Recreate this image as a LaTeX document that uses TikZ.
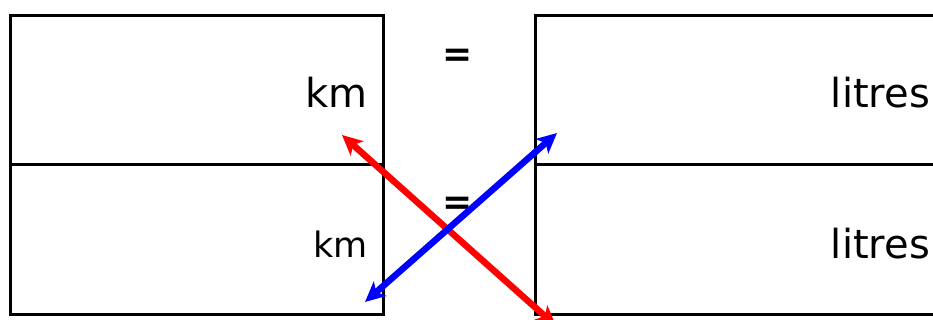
\documentclass[tikz,border=0pt]{standalone}
\usepackage{fontspec}
\setmainfont{DejaVu Sans}
\usetikzlibrary{arrows.meta}
\begin{document}
\begin{tikzpicture}[x=1pt,y=-1pt,
  cell/.style={draw,line width=3pt,rectangle,minimum width=#1,minimum height=149pt,inner sep=0pt,outer sep=0pt,anchor=north west},
  big/.style={anchor=base east,inner sep=0pt,font=\fontsize{40}{48}\selectfont},
  small/.style={anchor=base east,inner sep=0pt,font=\fontsize{35}{42}\selectfont},
  eq/.style={inner sep=0pt,font=\fontsize{36}{42}\selectfont\bfseries},
  dbl/.style={line width=6.5pt,{Stealth[length=20pt,width=19pt,inset=5pt]}-{Stealth[length=20pt,width=19pt,inset=5pt]}}]
\useasboundingbox (0,0) rectangle (933,320);
\clip (0,0) rectangle (933,320);
\node[cell=373pt] (lt) at (10,16) {};
\node[cell=373pt] (lb) at (10,165) {};
\node[cell=430pt] (rt) at (535,16) {};
\node[cell=430pt] (rb) at (535,165) {};
\node[big] (k1) at (368,108) {km};
\node[small] (k2) at (368,257) {km};
\node[big] (l1) at (930,108) {litres};
\node[big] (l2) at (930,258) {litres};
\node[eq] (e1) at (458,58) {=};
\node[eq] (e2) at (458,206) {=};
\coordinate (r1) at (342,135);
\coordinate (r2) at (556,326);
\coordinate (b1) at (365,302);
\coordinate (b2) at (557,133);
\draw[dbl,red] (r1) -- (r2);
\draw[dbl,blue] (b1) -- (b2);
\end{tikzpicture}
\end{document}
